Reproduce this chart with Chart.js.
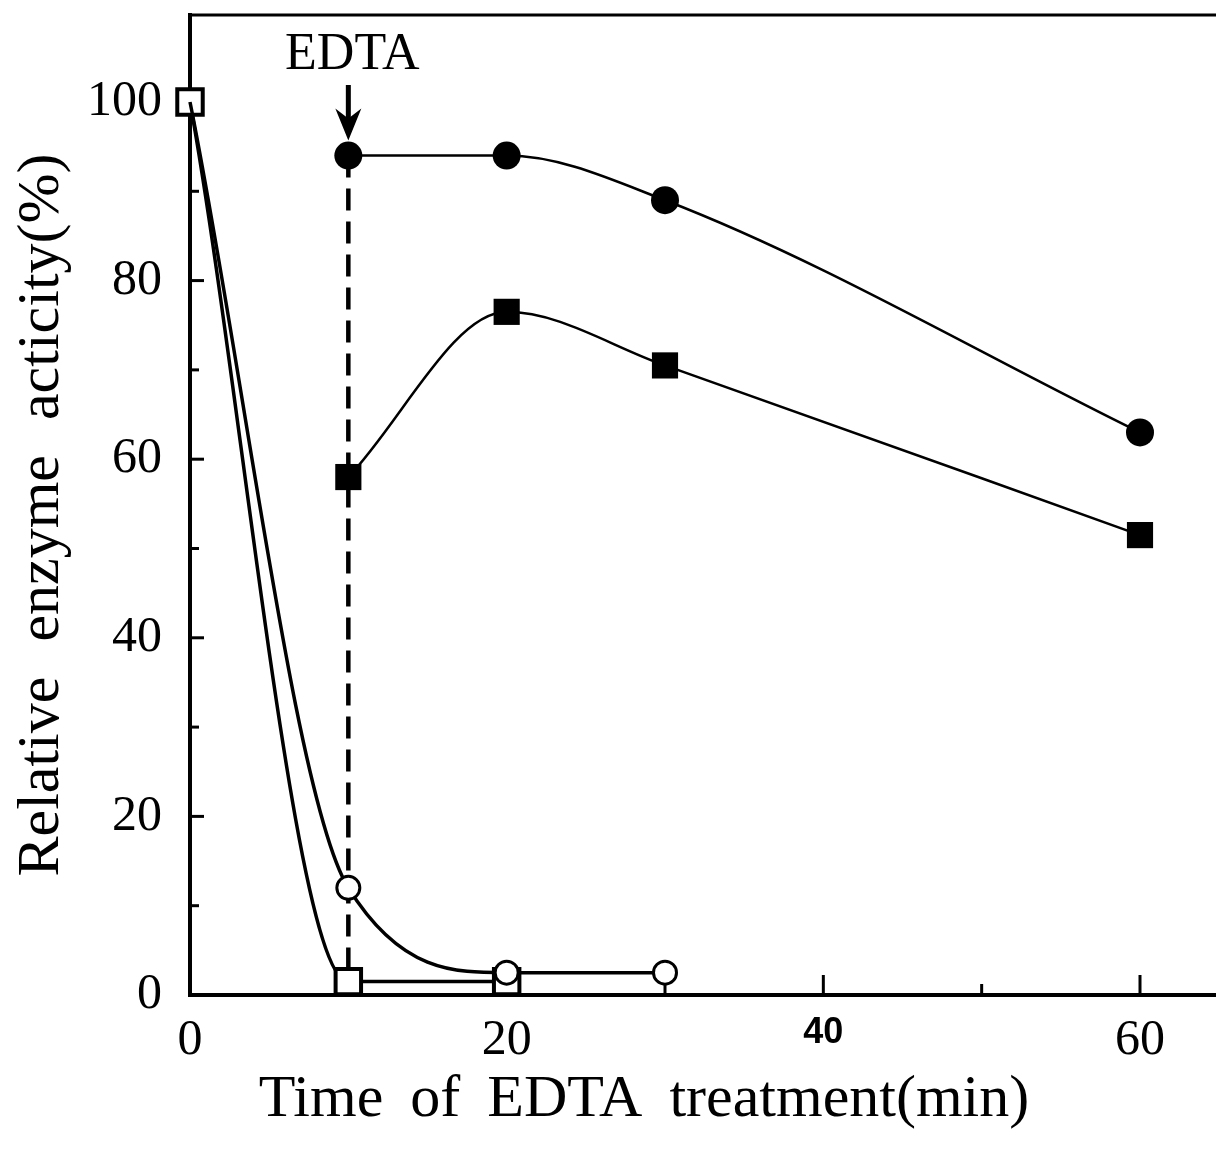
<!DOCTYPE html>
<html>
<head>
<meta charset="utf-8">
<title>EDTA treatment</title>
<script src="https://cdn.jsdelivr.net/npm/chart.js@4.4.0/dist/chart.umd.min.js"></script>
<style>
  html, body { margin: 0; padding: 0; background: #fff; }
  #box { width: 1216px; height: 1150px; }
</style>
</head>
<body>
<div id="box"><canvas id="edtaChart"></canvas></div>
<script>
// time (min) and relative activity (%) for each series
const openSquareTime = [0, 10, 20];
const openSquareActivity = [100, 1.5, 1.5];
const openCircleTime = [0, 10, 20, 30];
const openCircleActivity = [100, 12, 2.5, 2.5];
const filledCircleTime = [10, 20, 30, 60];
const filledCircleActivity = [94, 94, 89, 63];
const filledSquareTime = [10, 20, 30, 60];
const filledSquareActivity = [58, 76.5, 70.5, 51.5];

// axis ticks
const xTicks = [0, 10, 20, 30, 40, 50, 60];
const xTickLabels = [0, 20, 40, 60];
const yTicks = [0, 10, 20, 30, 40, 50, 60, 70, 80, 90, 100];
const yTickLabels = [0, 20, 40, 60, 80, 100];

// EDTA addition marker
const edtaTime = 10;
const arrowTop = 101.9;
const arrowTip = 95.7;
const edtaLabelLevel = 105.2;

const SERIF = "'Liberation Serif', 'DejaVu Serif', serif";

function toPoints(xs, ys) {
    return xs.map((t, i) => ({ x: t, y: ys[i] }));
}

function strokeLine(ctx, x1, y1, x2, y2) {
    ctx.beginPath();
    ctx.moveTo(x1, y1);
    ctx.lineTo(x2, y2);
    ctx.stroke();
}

// frame top, inward ticks, arrow and text labels
const frameAndMarks = {
    id: 'frameAndMarks',
    beforeDatasetsDraw(chart) {
        const { ctx, chartArea: a, scales: { x, y } } = chart;
        ctx.save();
        ctx.strokeStyle = '#000';
        ctx.lineCap = 'butt';

        ctx.lineWidth = 3;
        strokeLine(ctx, a.left - 2, a.top, a.right, a.top);

        ctx.lineWidth = 3;
        yTicks.forEach(v => {
            if (v === 0) return;
            const py = y.getPixelForValue(v);
            const len = v % 20 === 0 ? 14 : 9;
            strokeLine(ctx, a.left, py, a.left + len, py);
        });
        xTicks.forEach(v => {
            if (v === 0) return;
            const px = x.getPixelForValue(v);
            const len = v % 20 === 0 ? 20 : 11;
            strokeLine(ctx, px, a.bottom, px, a.bottom - len);
        });

        // arrow pointing at the EDTA addition time
        const ax = x.getPixelForValue(edtaTime);
        const top = y.getPixelForValue(arrowTop);
        const tip = y.getPixelForValue(arrowTip);
        ctx.lineWidth = 5;
        strokeLine(ctx, ax, top, ax, tip - 10);
        ctx.fillStyle = '#000';
        ctx.beginPath();
        ctx.moveTo(ax, tip);
        ctx.lineTo(ax - 13, tip - 32);
        ctx.lineTo(ax, tip - 22);
        ctx.lineTo(ax + 13, tip - 32);
        ctx.closePath();
        ctx.fill();

        ctx.font = '52px ' + SERIF;
        ctx.textAlign = 'center';
        ctx.textBaseline = 'middle';
        ctx.fillText('EDTA', ax + 4, y.getPixelForValue(edtaLabelLevel));
        ctx.restore();
    },
    afterDraw(chart) {
        const { ctx } = chart;
        ctx.save();
        ctx.fillStyle = '#000';
        ctx.textAlign = 'center';
        ctx.textBaseline = 'middle';
        ctx.font = '60px ' + SERIF;

        ctx.wordSpacing = '12px';
        ctx.fillText('Time of EDTA treatment(min)', 644, 1100);

        ctx.wordSpacing = '20px';
        ctx.translate(42, 515);
        ctx.rotate(-Math.PI / 2);
        ctx.fillText('Relative enzyme acticity(%)', 0, 0);
        ctx.restore();
    }
};

const ctx = document.getElementById('edtaChart').getContext('2d');

const edtaChart = new Chart(ctx, {
    type: 'line',
    data: {
        datasets: [
            {
                label: 'open square',
                data: toPoints(openSquareTime, openSquareActivity),
                order: 2,
                borderColor: '#000',
                borderWidth: 3.5,
                cubicInterpolationMode: 'monotone',
                pointStyle: 'rect',
                pointRadius: 18,
                pointBorderWidth: 4,
                pointBackgroundColor: '#fff',
                pointBorderColor: '#000',
                clip: false
            },
            {
                label: 'open circle',
                data: toPoints(openCircleTime, openCircleActivity),
                order: 1,
                borderColor: '#000',
                borderWidth: 3.5,
                cubicInterpolationMode: 'monotone',
                pointStyle: 'circle',
                pointRadius: c => c.dataIndex === 0 ? 0 : 11.5,
                pointBorderWidth: 3,
                pointBackgroundColor: '#fff',
                pointBorderColor: '#000',
                clip: false
            },
            {
                label: 'filled circle',
                data: toPoints(filledCircleTime, filledCircleActivity),
                order: 1,
                borderColor: '#000',
                borderWidth: 2.5,
                cubicInterpolationMode: 'monotone',
                pointStyle: 'circle',
                pointRadius: 14,
                pointBorderWidth: 0,
                pointBackgroundColor: '#000',
                clip: false
            },
            {
                label: 'filled square',
                data: toPoints(filledSquareTime, filledSquareActivity),
                order: 1,
                borderColor: '#000',
                borderWidth: 2.5,
                cubicInterpolationMode: 'monotone',
                pointStyle: 'rect',
                pointRadius: 18.5,
                pointBorderWidth: 0,
                pointBackgroundColor: '#000',
                clip: false
            },
            {
                label: 'EDTA',
                data: [{ x: edtaTime, y: filledCircleActivity[0] }, { x: edtaTime, y: 0 }],
                order: 3,
                borderColor: '#000',
                borderWidth: 4.5,
                borderDash: [22, 11],
                pointRadius: 0,
                clip: false
            }
        ]
    },
    options: {
        responsive: true,
        maintainAspectRatio: false,
        animation: false,
        layout: {
            autoPadding: false,
            padding: { top: 15, right: 0, left: 0, bottom: 0 }
        },
        plugins: {
            legend: { display: false },
            tooltip: { enabled: false }
        },
        scales: {
            x: {
                type: 'linear',
                min: 0,
                max: 64.8,
                afterBuildTicks: scale => {
                    scale.ticks = xTickLabels.map(v => ({ value: v }));
                },
                afterFit: scale => {
                    scale.height = 155;
                    scale.paddingLeft = 0;
                    scale.paddingRight = 0;
                },
                grid: { display: false, drawTicks: false },
                border: { display: true, color: '#000', width: 4 },
                ticks: {
                    color: '#000',
                    padding: 16,
                    maxRotation: 0,
                    autoSkip: false,
                    font: c => c.tick && c.tick.value === 40
                        ? { family: "'Liberation Sans', Arial, sans-serif", size: 36, weight: 'bold' }
                        : { family: SERIF, size: 50 },
                    callback: v => String(v)
                }
            },
            y: {
                type: 'linear',
                min: 0,
                max: 109.74,
                afterBuildTicks: scale => {
                    scale.ticks = yTickLabels.map(v => ({ value: v }));
                },
                afterFit: scale => {
                    scale.width = 190;
                    scale.paddingTop = 0;
                    scale.paddingBottom = 0;
                },
                grid: { display: false, drawTicks: false },
                border: { display: true, color: '#000', width: 4 },
                ticks: {
                    color: '#000',
                    padding: 28,
                    autoSkip: false,
                    font: { family: SERIF, size: 50 },
                    callback: v => String(v)
                }
            }
        }
    },
    plugins: [frameAndMarks]
});
</script>
</body>
</html>
